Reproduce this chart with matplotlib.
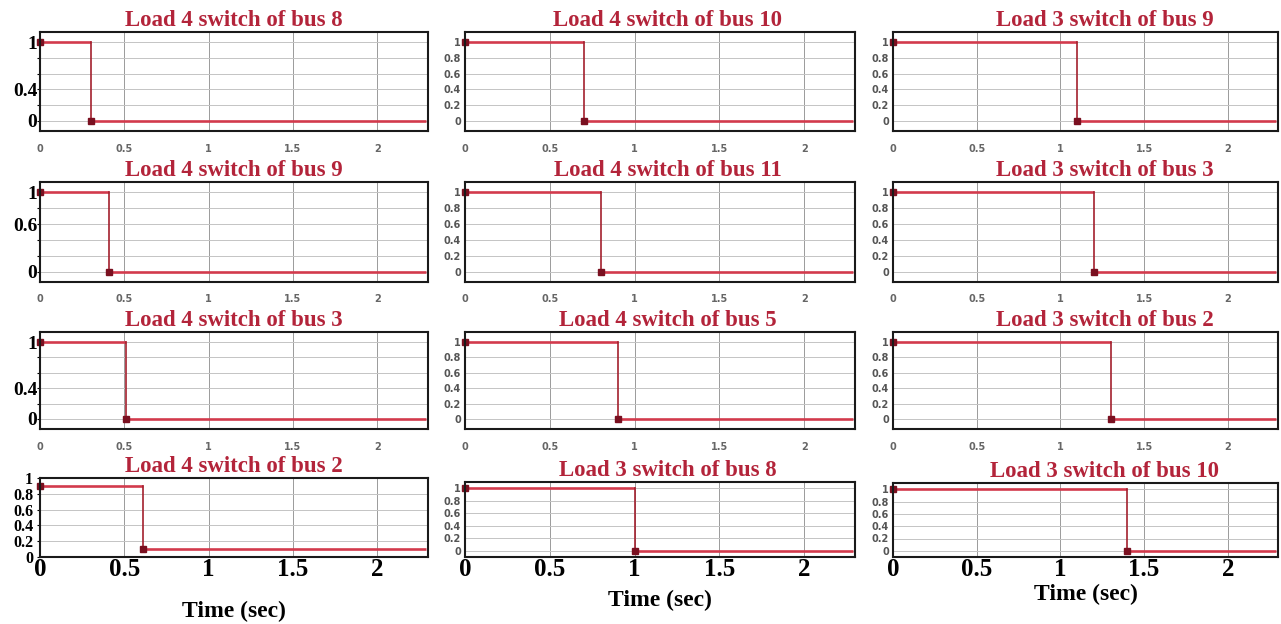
import numpy as np
import matplotlib
matplotlib.use("Agg")
import matplotlib.pyplot as plt

# panel data, row by row (3 columns x 4 rows)
titles = [
    "Load 4 switch of bus 8", "Load 4 switch of bus 10", "Load 3 switch of bus 9",
    "Load 4 switch of bus 9", "Load 4 switch of bus 11", "Load 3 switch of bus 3",
    "Load 4 switch of bus 3", "Load 4 switch of bus 5", "Load 3 switch of bus 2",
    "Load 4 switch of bus 2", "Load 3 switch of bus 8", "Load 3 switch of bus 10",
]
switch_times = [0.30, 0.70, 1.10,
                0.41, 0.80, 1.20,
                0.51, 0.90, 1.30,
                0.61, 1.00, 1.40]
on_values = [1, 1, 1, 1, 1, 1, 1, 1, 1, 0.9, 1, 1]
off_values = [0, 0, 0, 0, 0, 0, 0, 0, 0, 0.1, 0, 0]
t_end = 2.29

x_ticks = [0, 0.5, 1, 1.5, 2]
x_tick_labels = ["0", "0.5", "1", "1.5", "2"]
y_ticks = [0, 0.2, 0.4, 0.6, 0.8, 1]
y_tick_labels = ["0", "0.2", "0.4", "0.6", "0.8", "1"]
# hand-picked labels on the left column
left_labels = [["0", "", "0.4", "", "", "1"],
               ["0", "", "", "0.6", "", "1"],
               ["0", "", "0.4", "", "", "1"],
               y_tick_labels]

W, H = 1281, 624
cols_px = [(40, 428), (465, 855), (893, 1278)]
rows_px = [[(32, 131)] * 3, [(182, 282)] * 3, [(332, 429)] * 3,
           [(478, 557), (482, 557), (483, 557)]]
title_x = [0.5, 0.52, 0.55]

line_col = "#d23a4c"
drop_col = "#a3202e"
mark_col = "#7a1020"
title_col = "#b3243a"
serif = ["Liberation Serif", "DejaVu Serif"]

fig = plt.figure(figsize=(W / 100, H / 100), dpi=100)

for i in range(12):
    r, c = divmod(i, 3)
    x0, x1 = cols_px[c]
    y0, y1 = rows_px[r][c]
    ax = fig.add_axes([x0 / W, 1 - y1 / H, (x1 - x0) / W, (y1 - y0) / H])

    t = switch_times[i]
    hi, lo = on_values[i], off_values[i]
    ax.plot([0, t], [hi, hi], color=line_col, lw=1.9, solid_capstyle="butt")
    ax.plot([t, t], [hi, lo], color=drop_col, lw=1.2)
    ax.plot([t, t_end], [lo, lo], color=line_col, lw=1.9, solid_capstyle="butt")
    ax.plot([0, t], [hi, lo], ls="none", marker="s", ms=4.5, color=mark_col, clip_on=False)

    ax.set_xlim(0, 2.3)
    if r == 3 and c == 0:
        ax.set_ylim(0, 1)
    elif r == 3:
        ax.set_ylim(-0.1, 1.1)
    else:
        ax.set_ylim(-0.13, 1.13)

    ax.set_xticks(x_ticks)
    ax.set_yticks(y_ticks)
    ax.grid(True, axis="x", color="#9a9a9a", lw=0.7)
    ax.grid(True, axis="y", color="#c4c4c4", lw=0.7)
    ax.set_axisbelow(True)
    for sp in ax.spines.values():
        sp.set_linewidth(1.5)
        sp.set_color("#1a1a1a")

    if r == 3:
        ax.set_xticklabels(x_tick_labels, family=serif, fontweight="bold", fontsize=18)
        ax.tick_params(axis="x", length=0, pad=1)
        ax.set_xlabel("Time (sec)", family=serif, fontweight="bold", fontsize=17,
                      labelpad=[14, 6, 2][c])
    else:
        ax.set_xticklabels(x_tick_labels, fontsize=7, fontweight="bold", color="#666666")
        ax.tick_params(axis="x", length=0, pad=9)

    if c == 0:
        ax.set_yticklabels(left_labels[r], family=serif, fontweight="bold",
                           fontsize=14 if r < 3 else 11.5)
        ax.tick_params(axis="y", length=2, pad=0 if r < 3 else 3)
    else:
        ax.set_yticklabels(y_tick_labels, fontsize=7, fontweight="bold", color="#555555")
        ax.tick_params(axis="y", length=0, pad=3)

    ax.set_title(titles[i], family=serif, fontweight="bold", fontsize=16.5,
                 color=title_col, x=title_x[c], pad=4)

fig.savefig("out.png", dpi=100, facecolor="white")
